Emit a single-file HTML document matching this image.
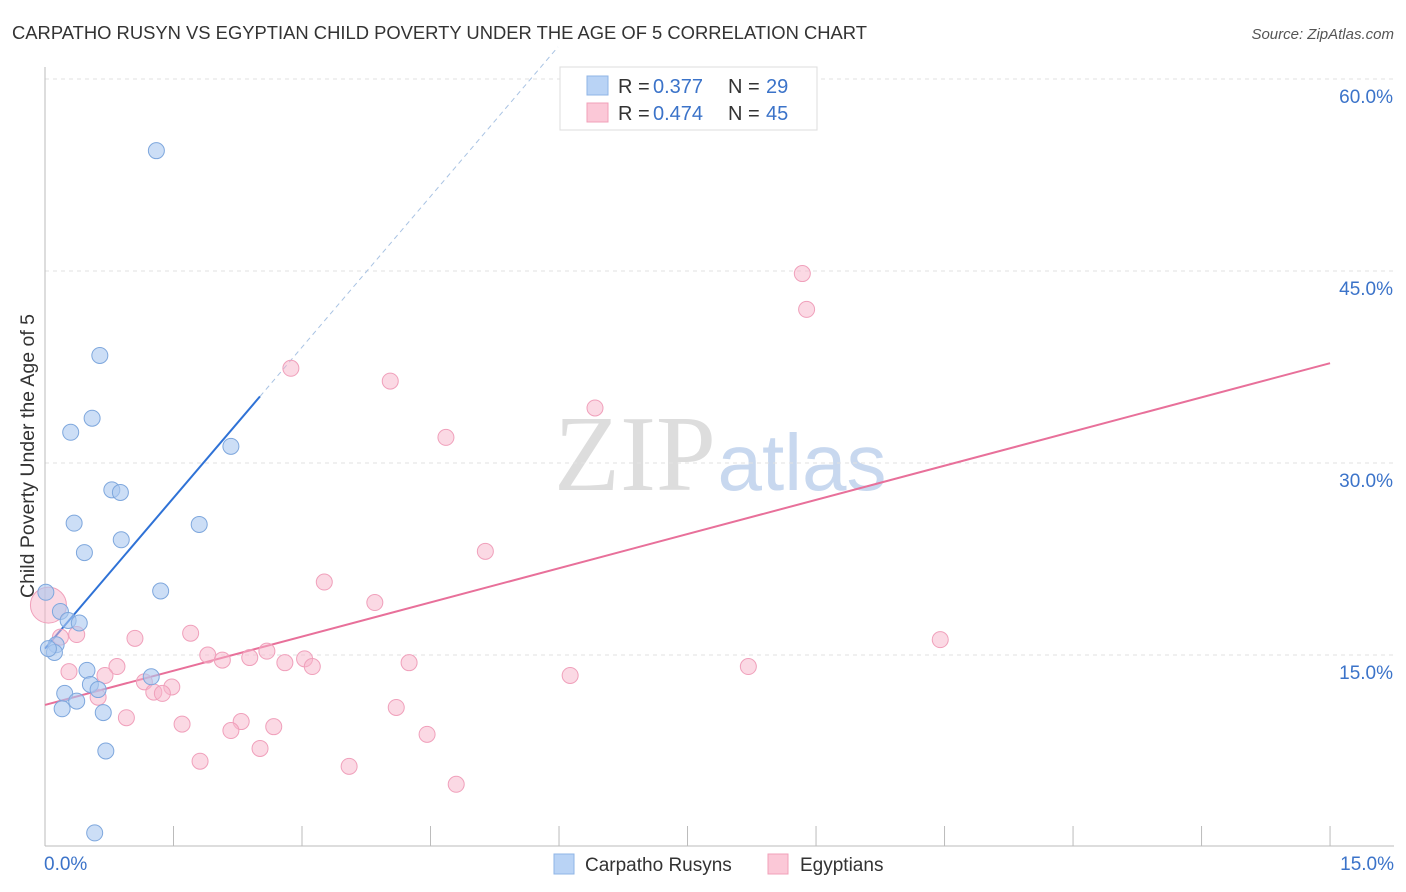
<!DOCTYPE html>
<html><head><meta charset="utf-8"><style>
body{margin:0;background:#fff;font-family:"Liberation Sans",sans-serif;}
#wrap{position:relative;width:1406px;height:892px;overflow:hidden;}
</style></head><body>
<div id="wrap">
<svg id="svg" width="1406" height="892" xmlns="http://www.w3.org/2000/svg">
<text x="12" y="39" font-size="18.4" fill="#333">CARPATHO RUSYN VS EGYPTIAN CHILD POVERTY UNDER THE AGE OF 5 CORRELATION CHART</text>
<text x="1394" y="39" font-size="15" fill="#555" text-anchor="end" font-style="italic">Source: ZipAtlas.com</text>
<text x="0" y="0" transform="translate(34,456) rotate(-90)" font-size="19.5" fill="#333" text-anchor="middle">Child Poverty Under the Age of 5</text>
<g><text x="635" y="490" font-size="108" fill="#ddd" text-anchor="middle" font-family="Liberation Serif,serif">ZIP</text><text x="802" y="490" font-size="80" fill="#c8d8ef" text-anchor="middle">atlas</text></g>
<g id="grid"></g><g id="axes"></g><g id="lines"></g><g id="pts"></g>
<g>
<rect x="560" y="67" width="257" height="63" fill="#fff" stroke="#ddd"/>
<rect x="587" y="76" width="21" height="19" fill="#b9d3f5" stroke="#8fb4e6"/>
<rect x="587" y="103" width="21" height="19" fill="#fbc8d7" stroke="#f1a0b9"/>
<text x="618" y="93" font-size="20" fill="#333">R =</text><text x="653" y="93" font-size="20" fill="#3b73c9">0.377</text>
<text x="728" y="93" font-size="20" fill="#333">N =</text><text x="766" y="93" font-size="20" fill="#3b73c9">29</text>
<text x="618" y="120" font-size="20" fill="#333">R =</text><text x="653" y="120" font-size="20" fill="#3b73c9">0.474</text>
<text x="728" y="120" font-size="20" fill="#333">N =</text><text x="766" y="120" font-size="20" fill="#3b73c9">45</text>
</g>
<g>
<rect x="554" y="854" width="20" height="20" fill="#b9d3f5" stroke="#8fb4e6"/>
<text x="585" y="871" font-size="19" fill="#333">Carpatho Rusyns</text>
<rect x="768" y="854" width="20" height="20" fill="#fbc8d7" stroke="#f1a0b9"/>
<text x="800" y="871" font-size="19" fill="#333">Egyptians</text>
</g>
</svg>
</div>
<script>
const yTicks=[15,30,45,60];
const xTickLabels=["0.0%","15.0%"];
const blueX=[1.30,0.64,0.55,0.30,2.17,0.78,0.88,0.34,1.80,0.89,0.46,1.35,0.01,0.18,0.27,0.40,0.13,0.11,0.04,0.49,1.24,0.53,0.62,0.23,0.37,0.20,0.68,0.71,0.58];
const blueY=[54.4,38.4,33.5,32.4,31.3,27.9,27.7,25.3,25.2,24.0,23.0,20.0,19.9,18.4,17.7,17.5,15.8,15.2,15.5,13.8,13.3,12.7,12.3,12.0,11.4,10.8,10.5,7.5,1.1];
const pinkX=[8.84,8.89,2.87,4.03,6.42,4.68,5.14,3.26,3.85,0.04,10.45,1.05,1.70,0.37,0.18,2.59,1.90,2.39,2.07,3.03,2.80,3.12,4.25,8.21,0.84,0.28,0.70,6.13,1.16,1.48,1.27,1.37,0.62,0.95,2.29,4.10,1.60,2.67,2.17,4.46,2.51,1.81,3.55,4.80];
const pinkY=[44.8,42.0,37.4,36.4,34.3,32.0,23.1,20.7,19.1,18.9,16.2,16.3,16.7,16.6,16.4,15.3,15.0,14.8,14.6,14.7,14.4,14.1,14.4,14.1,14.1,13.7,13.4,13.4,12.9,12.5,12.1,12.0,11.7,10.1,9.8,10.9,9.6,9.4,9.1,8.8,7.7,6.7,6.3,4.9];
const blueFit=[15.5,7.85];
const pinkFit=[11.1,1.78];
const X=v=>45+v*85.67, Y=v=>655-(v-15)*12.8;
const NS="http://www.w3.org/2000/svg";
function mk(p,t,a){const e=document.createElementNS(NS,t);for(const k in a)e.setAttribute(k,a[k]);document.getElementById(p).appendChild(e);return e;}
yTicks.forEach(t=>{
 const l=mk('grid','line',{x1:45,x2:1394,y1:Y(t),y2:Y(t),stroke:'#e2e2e2','stroke-dasharray':'4,4'});
 
 
 const tx=mk('grid','text',{x:1393,y:Y(t)+24,'font-size':19,fill:'#3b73c9','text-anchor':'end'});tx.textContent=t.toFixed(1)+'%';
 
 
});
const ax=mk('axes','line',{x1:45,x2:45,y1:67,y2:846,stroke:'#bbb'});


const bx=mk('axes','line',{x1:45,x2:1394,y1:846,y2:846,stroke:'#bbb'});


for(let i=0;i<=10;i++){const t=mk('axes','line',{x1:X(i*1.5),x2:X(i*1.5),y1:826,y2:846,stroke:'#bbb'});
 
 }
[[0,'start',44],[15,'end',1394]].forEach((d,i)=>{const t=mk('axes','text',{x:d[2],y:870,'font-size':19,fill:'#3b73c9','text-anchor':d[1]});t.textContent=xTickLabels[i];
 
 });
const bl=mk('lines','line',{x1:X(0),y1:Y(blueFit[0]),x2:X(2.51),y2:Y(blueFit[0]+blueFit[1]*2.51),stroke:'#2f72d6','stroke-width':2});


const xe=(60+2.5-blueFit[0])/blueFit[1];
const bd=mk('lines','line',{x1:X(2.51),y1:Y(blueFit[0]+blueFit[1]*2.51),x2:X(xe),y2:Y(blueFit[0]+blueFit[1]*xe),stroke:'#a9c3e3','stroke-width':1,'stroke-dasharray':'5,4'});


const pl=mk('lines','line',{x1:X(0),y1:Y(pinkFit[0]),x2:X(15),y2:Y(pinkFit[0]+pinkFit[1]*15),stroke:'#e8709a','stroke-width':2});


pinkX.forEach((x,i)=>{const c=mk('pts','circle',{cx:X(x),cy:Y(pinkY[i]),r:i==9?18:8,fill:'rgba(248,180,202,0.5)',stroke:'#f0a0bb','stroke-width':1});
 
 });
blueX.forEach((x,i)=>{const c=mk('pts','circle',{cx:X(x),cy:Y(blueY[i]),r:8,fill:'rgba(170,200,240,0.6)',stroke:'#7ea7dd','stroke-width':1});
 
 });
</script>
</body></html>
